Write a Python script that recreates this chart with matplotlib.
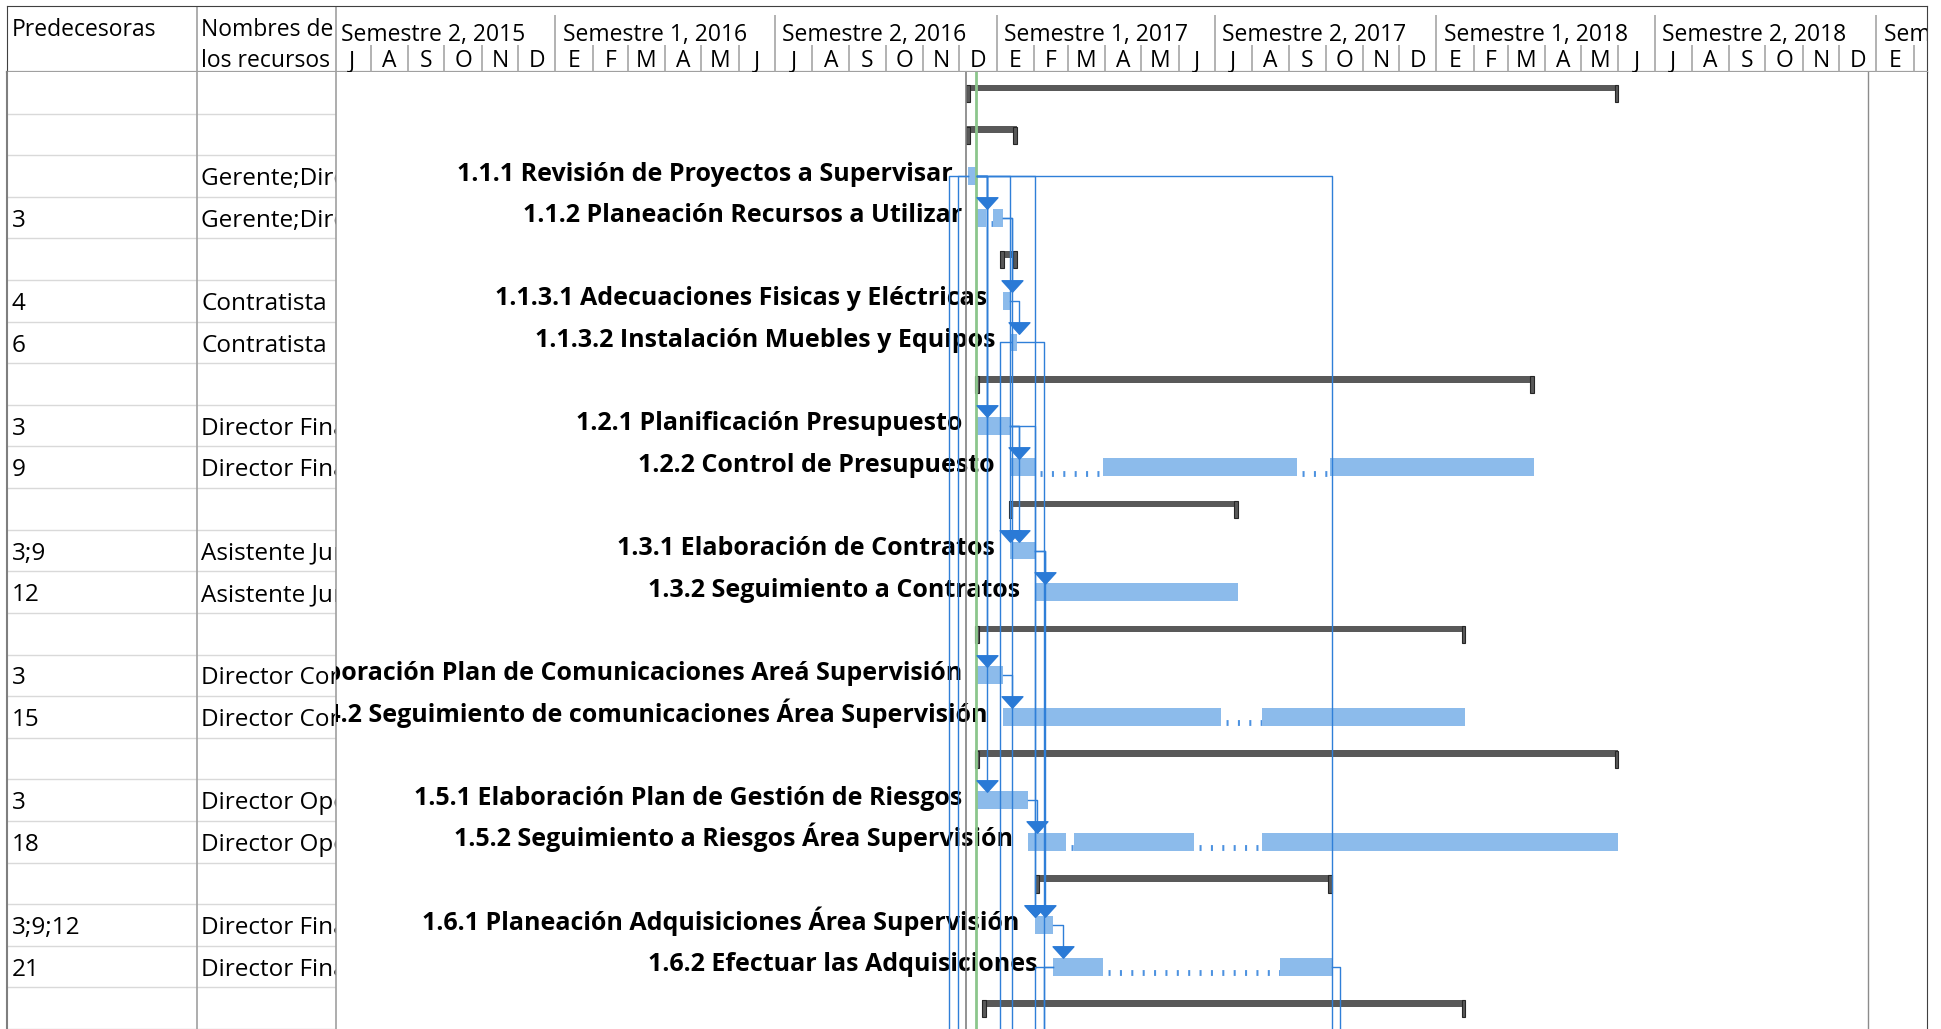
import numpy as np
import pandas as pd
import matplotlib
matplotlib.use('Agg')
import matplotlib.pyplot as plt
import matplotlib.dates as mdates
from matplotlib.path import Path
from matplotlib.transforms import offset_copy

plt.rcParams['font.family'] = ['Open Sans', 'DejaVu Sans']

# --- datos del cronograma ---
predecesoras = ['', '', '', '3', '', '4', '6', '', '3', '9', '', '3;9', '12', '',
                '3', '15', '', '3', '18', '', '3;9;12', '21', '']
recursos = ['', '', 'Gerente;Director de Proyecto', 'Gerente;Director de Proyecto', '',
            'Contratista', 'Contratista', '', 'Director Financiero', 'Director Financiero', '',
            'Asistente Jurídico', 'Asistente Jurídico', '',
            'Director Comunicaciones', 'Director Comunicaciones', '',
            'Director Operativo', 'Director Operativo', '',
            'Director Financiero', 'Director Financiero', '']
tipo = ['R', 'R', 'T', 'T', 'R', 'T', 'T', 'R', 'T', 'T', 'R', 'T', 'T', 'R',
        'T', 'T', 'R', 'T', 'T', 'R', 'T', 'T', 'R']
nombres = ['', '',
           '1.1.1 Revisión de Proyectos a Supervisar',
           '1.1.2 Planeación Recursos a Utilizar', '',
           '1.1.3.1 Adecuaciones Fisicas y Eléctricas',
           '1.1.3.2 Instalación Muebles y Equipos', '',
           '1.2.1 Planificación Presupuesto',
           '1.2.2 Control de Presupuesto', '',
           '1.3.1 Elaboración de Contratos',
           '1.3.2 Seguimiento a Contratos', '',
           '1.4.1 Elaboración Plan de Comunicaciones Areá Supervisión',
           '1.4.2 Seguimiento de comunicaciones Área Supervisión', '',
           '1.5.1 Elaboración Plan de Gestión de Riesgos',
           '1.5.2 Seguimiento a Riesgos Área Supervisión', '',
           '1.6.1 Planeación Adquisiciones Área Supervisión',
           '1.6.2 Efectuar las Adquisiciones', '']
tramos = [
    [('2016-12-07', '2018-06-01')],
    [('2016-12-07', '2017-01-18')],
    [('2016-12-08', '2016-12-16')],
    [('2016-12-16', '2016-12-23'), ('2016-12-29', '2017-01-06')],
    [('2017-01-04', '2017-01-18')],
    [('2017-01-06', '2017-01-12')],
    [('2017-01-13', '2017-01-18')],
    [('2016-12-14', '2018-03-23')],
    [('2016-12-16', '2017-01-12')],
    [('2017-01-12', '2017-02-02'), ('2017-03-30', '2017-09-07'), ('2017-10-05', '2018-03-23')],
    [('2017-01-11', '2017-07-20')],
    [('2017-01-12', '2017-02-02')],
    [('2017-02-02', '2017-07-20')],
    [('2016-12-14', '2018-01-25')],
    [('2016-12-16', '2017-01-06')],
    [('2017-01-06', '2017-07-06'), ('2017-08-09', '2018-01-25')],
    [('2016-12-14', '2018-06-01')],
    [('2016-12-16', '2017-01-27')],
    [('2017-01-27', '2017-02-28'), ('2017-03-06', '2017-06-14'), ('2017-08-09', '2018-06-01')],
    [('2017-02-02', '2017-10-06')],
    [('2017-02-02', '2017-02-17')],
    [('2017-02-17', '2017-03-30'), ('2017-08-24', '2017-10-06')],
    [('2016-12-20', '2018-01-25')],
]
# enlaces hacia tareas que quedan por debajo de la vista (id predecesora, fecha)
enlaces_abajo = [(3, '2016-11-23'), (3, '2016-11-30'), (3, '2017-10-06'),
                 (4, '2017-01-14'), (7, '2017-01-04'), (7, '2017-02-09'),
                 (22, '2017-02-02'), (22, '2017-02-09'), (22, '2017-10-13')]
inicio_proyecto = '2016-12-07'
fecha_estado = '2016-12-15'
fin_pagina = '2018-12-25'
vista = ('2015-07-03', '2019-02-12')
iniciales = ['E', 'F', 'M', 'A', 'M', 'J', 'J', 'A', 'S', 'O', 'N', 'D']

azul = '#8cbbeb'
azul_linea = '#2f7fd8'
gris_res = '#595959'


def d(s):
    return mdates.date2num(pd.Timestamp(s))


W, H = 1941, 1029
fig = plt.figure(figsize=(W / 100, H / 100), dpi=100)


def caja(x0, y0, x1, y1):
    return [x0 / W, 1 - y1 / H, (x1 - x0) / W, (y1 - y0) / H]


ax_cab = fig.add_axes(caja(7, 6, 1927, 72))
ax_pre = fig.add_axes(caja(7, 72, 197, 1029))
ax_rec = fig.add_axes(caja(197, 72, 336, 1029), sharey=ax_pre)
ax = fig.add_axes(caja(336, 72, 1927, 1029), sharey=ax_pre)
ax_t = fig.add_axes(caja(336, 6, 1927, 72), sharex=ax)

n = len(tipo)
ax.set_ylim(n - 0.5, -0.5)
ax.set_xlim(d(vista[0]), d(vista[1]))

for a in (ax_cab, ax_pre, ax_rec, ax, ax_t):
    a.set_xticks([])
    a.set_yticks([])
    for s in a.spines.values():
        s.set_visible(False)

# cabecera general
ax_cab.set_xlim(7, 1927)
ax_cab.set_ylim(0, 1)
ax_cab.spines['top'].set_visible(True)
ax_cab.spines['top'].set_color('#404040')
ax_cab.spines['bottom'].set_visible(True)
ax_cab.spines['bottom'].set_color('#a0a0a0')
ax_cab.spines['bottom'].set_linewidth(1.6)
for lado in ('left', 'right'):
    ax_cab.spines[lado].set_visible(True)
    ax_cab.spines[lado].set_color('#404040')
ax_cab.axvline(197, color='#a0a0a0', lw=1.2)
ax_cab.axvline(336, color='#a0a0a0', lw=1.2)
ax_cab.text(12, 0.55, 'Predecesoras', fontsize=16.5, va='baseline')
ax_cab.text(201, 0.55, 'Nombres de', fontsize=16.5, va='baseline')
ax_cab.text(201, 0.08, 'los recursos', fontsize=16.5, va='baseline')

# escala de tiempo
ax_t.set_ylim(0, 1)
ax_t.patch.set_visible(False)
meses = pd.date_range('2015-07-01', '2019-03-01', freq='MS')
for m0, m1 in zip(meses[:-1], meses[1:]):
    x0 = mdates.date2num(m0)
    x1 = mdates.date2num(m1)
    if m0.month in (1, 7):
        ax_t.vlines(x0, 0, 0.86, color='#a6a6a6', lw=1.2)
        sem = 1 if m0.month == 1 else 2
        ax_t.text(x0 + 6, 0.47, f'Semestre {sem}, {m0.year}', fontsize=16.5,
                  va='baseline', clip_on=True)
    else:
        ax_t.vlines(x0, 0, 0.41, color='#a6a6a6', lw=1.2)
    ax_t.text((x0 + x1) / 2, 0.07, iniciales[m0.month - 1], fontsize=16.5,
              ha='center', va='baseline', clip_on=True)

# columnas de la tabla
ax_pre.spines['left'].set_visible(True)
ax_pre.spines['left'].set_color('#7f7f7f')
ax_pre.spines['left'].set_linewidth(1.5)
ax_rec.spines['left'].set_visible(True)
ax_rec.spines['left'].set_color('#a0a0a0')
ax_rec.spines['left'].set_linewidth(1.2)
ax.spines['left'].set_visible(True)
ax.spines['left'].set_color('#a0a0a0')
ax.spines['left'].set_linewidth(1.2)
ax.spines['right'].set_visible(True)
ax.spines['right'].set_color('#404040')
for a in (ax_pre, ax_rec):
    for i in range(n):
        a.axhline(i + 0.5, color='#d9d9d9', lw=1)
for i in range(n):
    ax_pre.text(0.026, i + 0.22, predecesoras[i], fontsize=17.5, va='baseline',
                transform=ax_pre.get_yaxis_transform(), clip_on=True)
    ax_rec.text(0.03, i + 0.22, recursos[i], fontsize=17.5, va='baseline',
                transform=ax_rec.get_yaxis_transform(), clip_on=True)

# lineas verticales
ax.axvline(d(fin_pagina), color='#8c8c8c', lw=1)
ax.axvline(d(inicio_proyecto), color='#808080', lw=1.2, zorder=4)
ax.axvline(d(fecha_estado), color='#8cc68c', lw=2, zorder=4)

# barras
cap = 3.2
for i in range(n):
    seg = [(d(a), d(b)) for a, b in tramos[i]]
    if tipo[i] == 'R':
        a, b = seg[0]
        ax.barh(i - 0.115, b - a, left=a, height=0.16, color=gris_res, zorder=3)
        ax.barh([i + 0.015, i + 0.015], [cap, cap], left=[a, b - cap], height=0.41,
                color=gris_res, edgecolor='#262626', lw=0.8, zorder=3)
    else:
        for a, b in seg:
            ax.barh(i, b - a, left=a, height=0.43, color=azul, zorder=3)
        for (a0, b0), (a1, b1) in zip(seg[:-1], seg[1:]):
            ax.plot([b0, a1], [i + 0.15, i + 0.15], color='#4d92e0', lw=4.2,
                    ls=(1, (0.35, 1.6)), solid_capstyle='butt', dash_capstyle='butt', zorder=3)
        off = offset_copy(ax.transData, fig=fig, x=-11, units='points')
        ax.text(seg[0][0], i + 0.11, nombres[i], fontsize=18, fontweight='bold',
                ha='right', va='baseline', transform=off, clip_on=True, zorder=3.5)

# enlaces de dependencia
flecha = Path([(-1, 0.55), (1, 0.55), (0, -0.55), (-1, 0.55)],
              [Path.MOVETO, Path.LINETO, Path.LINETO, Path.CLOSEPOLY])


def extremos(k):
    return d(tramos[k][0][0]), d(tramos[k][-1][1])


def enlace(p, x_f, y_fin):
    a, b = extremos(p)
    x_b = b if x_f >= b else (a if x_f <= a else x_f)
    ax.plot([x_b, x_f, x_f], [p, p, y_fin], color=azul_linea, lw=1.0, zorder=5,
            solid_joinstyle='round')


for s in range(n):
    if not predecesoras[s]:
        continue
    ini_s = d(tramos[s][0][0])
    for pid in predecesoras[s].split(';'):
        p = int(pid) - 1
        x_f = max(ini_s, extremos(p)[1] + 8)
        enlace(p, x_f, s - 0.3)
        ax.plot(x_f, s - 0.347, marker=flecha, ms=15, color='#2a7ad6',
                ls='none', zorder=6)

for pid, fecha in enlaces_abajo:
    enlace(pid - 1, d(fecha), n + 2)

fig.savefig('out.png', dpi=100)
